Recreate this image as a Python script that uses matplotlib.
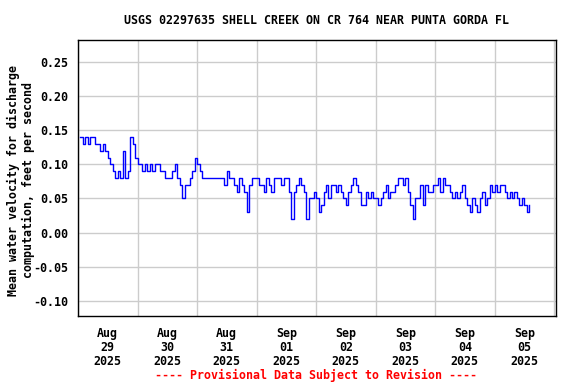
import matplotlib
matplotlib.use('Agg')
import matplotlib.pyplot as plt
import matplotlib.dates as mdates
from matplotlib.ticker import NullFormatter
from datetime import datetime, timedelta

# ---- data (hourly readings, feet per second) ----
start_time = datetime(2025, 8, 29, 1, 0)
velocity = [
    0.14, 0.13, 0.14, 0.13, 0.14, 0.14, 0.13, 0.13, 0.12, 0.13,
    0.12, 0.11, 0.10, 0.09, 0.08, 0.09, 0.08, 0.12, 0.08, 0.09,
    0.14, 0.13, 0.11, 0.10, 0.10, 0.09, 0.10, 0.09, 0.10, 0.09,
    0.10, 0.10, 0.09, 0.09, 0.08, 0.08, 0.08, 0.09, 0.10, 0.08,
    0.07, 0.05, 0.07, 0.07, 0.08, 0.09, 0.11, 0.10, 0.09, 0.08,
    0.08, 0.08, 0.08, 0.08, 0.08, 0.08, 0.08, 0.08, 0.07, 0.09,
    0.08, 0.08, 0.07, 0.06, 0.08, 0.07, 0.06, 0.03, 0.07, 0.08,
    0.08, 0.08, 0.07, 0.07, 0.06, 0.08, 0.07, 0.06, 0.08, 0.08,
    0.08, 0.07, 0.08, 0.08, 0.06, 0.02, 0.06, 0.07, 0.08, 0.07,
    0.06, 0.02, 0.05, 0.05, 0.06, 0.05, 0.03, 0.04, 0.06, 0.07,
    0.05, 0.07, 0.07, 0.06, 0.07, 0.06, 0.05, 0.04, 0.06, 0.07,
    0.08, 0.07, 0.06, 0.04, 0.04, 0.06, 0.05, 0.06, 0.05, 0.05,
    0.04, 0.05, 0.06, 0.07, 0.05, 0.06, 0.06, 0.07, 0.08, 0.08,
    0.07, 0.08, 0.06, 0.04, 0.02, 0.05, 0.05, 0.07, 0.04, 0.07,
    0.06, 0.06, 0.07, 0.07, 0.08, 0.06, 0.08, 0.07, 0.07, 0.06,
    0.05, 0.06, 0.05, 0.06, 0.07, 0.05, 0.04, 0.03, 0.05, 0.04,
    0.03, 0.05, 0.06, 0.04, 0.05, 0.07, 0.06, 0.07, 0.06, 0.07,
    0.07, 0.06, 0.05, 0.06, 0.05, 0.06, 0.05, 0.04, 0.05, 0.04,
    0.03, 0.04,
]
y_ticks = [-0.10, -0.05, 0.00, 0.05, 0.10, 0.15, 0.20, 0.25]
title = "USGS 02297635 SHELL CREEK ON CR 764 NEAR PUNTA GORDA FL"
y_label = "Mean water velocity for discharge\ncomputation, feet per second"
footer = "---- Provisional Data Subject to Revision ----"

times = [start_time + timedelta(hours=i) for i in range(len(velocity))]

FONT = dict(family='DejaVu Sans Mono', weight='bold', size=8.4)

fig = plt.figure(figsize=(5.76, 3.84), dpi=100)
ax = fig.add_axes([78 / 576, 1 - 316 / 384, (556 - 78) / 576, (316 - 40) / 384])

ax.plot(times, velocity, color='#0000FF', lw=1.0, drawstyle='steps-post', zorder=3)

ax.set_xlim(datetime(2025, 8, 29, 0, 0), datetime(2025, 9, 6, 0, 45))
ax.set_ylim(-0.122, 0.282)

ax.set_yticks(y_ticks)
ax.set_yticklabels([f"{v:.2f}" for v in y_ticks], fontdict=FONT)

ax.xaxis.set_major_locator(mdates.DayLocator())
ax.xaxis.set_major_formatter(NullFormatter())
ax.xaxis.set_minor_locator(mdates.HourLocator(byhour=12))
ax.xaxis.set_minor_formatter(mdates.DateFormatter('%b\n%d\n%Y'))
for lbl in ax.xaxis.get_minorticklabels():
    pass

ax.tick_params(axis='both', which='both', length=0)
ax.tick_params(axis='y', pad=7)
ax.tick_params(axis='x', which='minor', pad=8)

ax.grid(True, which='major', color='#CCCCCC', lw=1.0, zorder=0)
for s in ax.spines.values():
    s.set_color('black')
    s.set_linewidth(1.0)

fig.canvas.draw()
for lbl in ax.xaxis.get_minorticklabels():
    lbl.set_fontfamily('DejaVu Sans Mono')
    lbl.set_fontweight('bold')
    lbl.set_fontsize(8.4)
    lbl.set_linespacing(1.1)
    lbl.set_multialignment('center')

fig.text(317 / 576, 1 - 20 / 384, title, ha='center', va='center', **FONT)
fig.text(21 / 576, 1 - 180 / 384, y_label, ha='center', va='center',
         rotation=90, multialignment='center', linespacing=1.1, **FONT)
fig.text(316 / 576, 1 - 375 / 384, footer, ha='center', va='center',
         color='#FF0000', **FONT)

fig.savefig('out.png', dpi=100)
